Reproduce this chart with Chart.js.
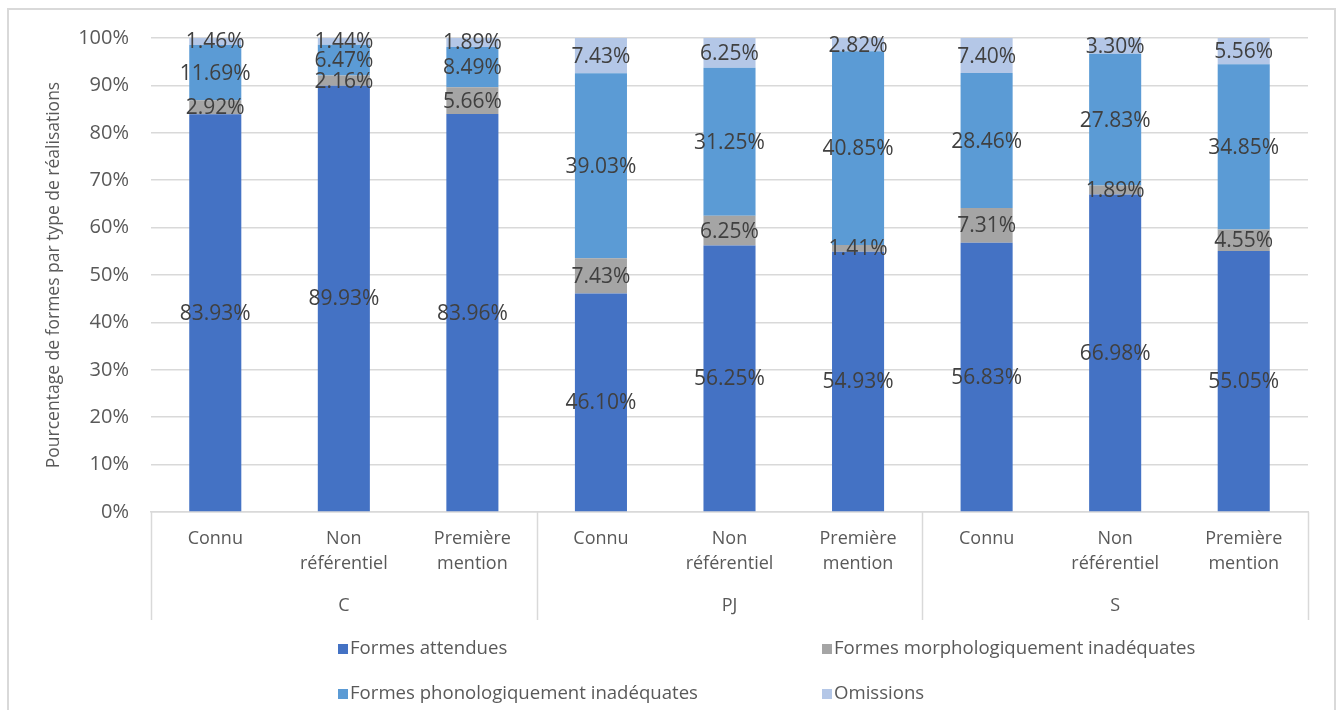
<!DOCTYPE html>
<html>
<head>
<meta charset="utf-8">
<script src="https://cdn.jsdelivr.net/npm/chart.js@4.4.0/dist/chart.umd.min.js"></script>
<style>
  body { margin: 0; background: #fff; }
  #wrap { position: absolute; left: 0; top: 0; width: 1344px; height: 710px; }
  #frame { position: absolute; left: 7px; top: 8px; width: 1329px; height: 720px; border: 2px solid #d9d9d9; box-sizing: border-box; }
</style>
</head>
<body>
<div id="wrap">
  <div id="frame"></div>
  <canvas id="graphique" width="1344" height="710"></canvas>
</div>
<script>
// données
var categories = [
    ['Connu'], ['Non', 'référentiel'], ['Première', 'mention'],
    ['Connu'], ['Non', 'référentiel'], ['Première', 'mention'],
    ['Connu'], ['Non', 'référentiel'], ['Première', 'mention']
];
var groupes = ['C', 'PJ', 'S'];
var formesAttendues = [83.93, 89.93, 83.96, 46.10, 56.25, 54.93, 56.83, 66.98, 55.05];
var formesMorpho = [2.92, 2.16, 5.66, 7.43, 6.25, 1.41, 7.31, 1.89, 4.55];
var formesPhono = [11.69, 6.47, 8.49, 39.03, 31.25, 40.85, 28.46, 27.83, 34.85];
var omissions = [1.46, 1.44, 1.89, 7.43, 6.25, 2.82, 7.40, 3.30, 5.56];
var seriesNoms = ['Formes attendues', 'Formes morphologiquement inadéquates', 'Formes phonologiquement inadéquates', 'Omissions'];
var couleurs = ['#4472C4', '#A5A5A5', '#5B9BD5', '#B4C7E7'];

var police = '"Open Sans", "Segoe UI", sans-serif';
var gris = '#595959';

// étiquettes au centre de chaque segment
var etiquettes = {
    id: 'etiquettes',
    afterDatasetsDraw: function(chart) {
        var ctx = chart.ctx;
        ctx.save();
        ctx.font = '21px ' + police;
        ctx.fillStyle = '#404040';
        ctx.textAlign = 'center';
        ctx.textBaseline = 'middle';
        chart.data.datasets.forEach(function(ds, i) {
            chart.getDatasetMeta(i).data.forEach(function(bar, j) {
                var p = bar.getProps(['x', 'y', 'base'], true);
                ctx.fillText(ds.data[j].toFixed(2) + '%', p.x, (p.y + p.base) / 2 + 1);
            });
        });
        ctx.restore();
    }
};

// axe à deux niveaux + légende en deux colonnes
var axeGroupes = {
    id: 'axeGroupes',
    afterDraw: function(chart) {
        var ctx = chart.ctx;
        var x = chart.scales.x;
        var area = chart.chartArea;
        var pas = (area.right - area.left) / categories.length;
        ctx.save();
        ctx.strokeStyle = '#d9d9d9';
        ctx.lineWidth = 1.5;
        for (var k = 0; k <= groupes.length; k++) {
            var xx = Math.round(area.left + k * 3 * pas) + 0.5;
            ctx.beginPath();
            ctx.moveTo(xx, area.bottom);
            ctx.lineTo(xx, 620);
            ctx.stroke();
        }
        ctx.font = '18px ' + police;
        ctx.fillStyle = gris;
        ctx.textAlign = 'center';
        ctx.textBaseline = 'middle';
        groupes.forEach(function(g, k) {
            ctx.fillText(g, x.getPixelForValue(k * 3 + 1), 606);
        });

        // légende
        var pos = [[338, 649], [822, 649], [338, 694], [822, 694]];
        ctx.font = '18.6px ' + police;
        ctx.textAlign = 'left';
        seriesNoms.forEach(function(nom, i) {
            ctx.fillStyle = couleurs[i];
            ctx.fillRect(pos[i][0], pos[i][1] - 5, 10, 10);
            ctx.fillStyle = gris;
            ctx.fillText(nom, pos[i][0] + 12, pos[i][1]);
        });
        ctx.restore();
    }
};

var donnees = [formesAttendues, formesMorpho, formesPhono, omissions];

new Chart(document.getElementById('graphique').getContext('2d'), {
    type: 'bar',
    data: {
        labels: categories,
        datasets: donnees.map(function(d, i) {
            return {
                label: seriesNoms[i],
                data: d,
                backgroundColor: couleurs[i],
                barPercentage: 0.405,
                categoryPercentage: 1
            };
        })
    },
    options: {
        responsive: false,
        animation: false,
        layout: { padding: { left: 44, right: 36, top: 38, bottom: 0 } },
        plugins: {
            legend: { display: false },
            tooltip: { enabled: false }
        },
        scales: {
            x: {
                stacked: true,
                grid: { display: false, drawTicks: false },
                border: { display: true, color: '#d9d9d9', width: 1.5 },
                ticks: {
                    color: gris,
                    font: { family: police, size: 18, lineHeight: 1.39 },
                    padding: 14,
                    maxRotation: 0,
                    autoSkip: false
                },
                afterFit: function(s) { s.height = 198; }
            },
            y: {
                stacked: true,
                min: 0,
                max: 100,
                ticks: {
                    stepSize: 10,
                    color: gris,
                    font: { family: police, size: 20 },
                    padding: 22,
                    callback: function(v) { return v + '%'; }
                },
                grid: { color: '#d9d9d9', lineWidth: 1.5, drawTicks: false },
                border: { display: false },
                title: {
                    display: true,
                    text: 'Pourcentage de formes par type de réalisations',
                    color: gris,
                    font: { family: police, size: 17.5 },
                    padding: { top: 0, bottom: 0 }
                },
                afterFit: function(s) { s.width = 107; }
            }
        }
    },
    plugins: [etiquettes, axeGroupes]
});
</script>
</body>
</html>
